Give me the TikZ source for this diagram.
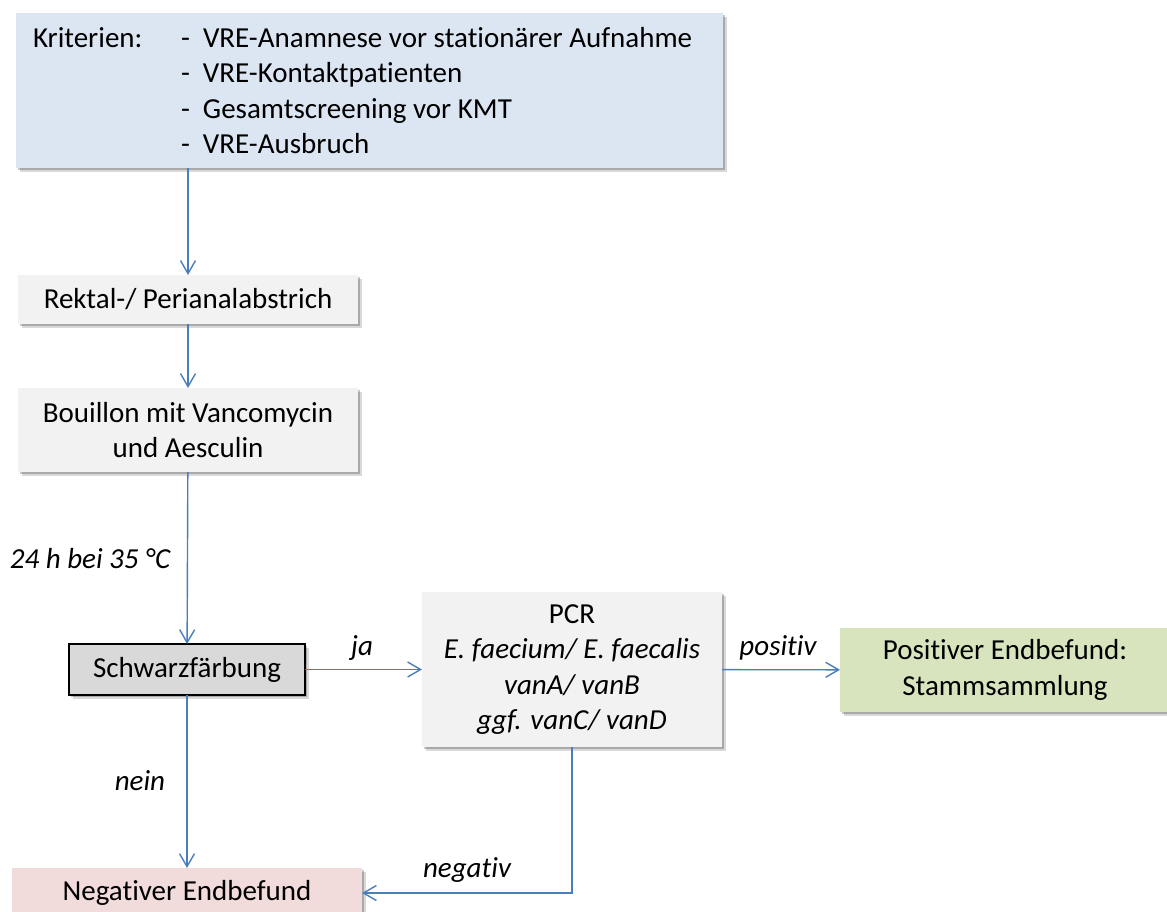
\documentclass[tikz,border=0pt]{standalone}
\usepackage{fontspec}
\setmainfont[Ligatures=NoCommon]{Carlito}
\usetikzlibrary{arrows.meta,shadows}
\definecolor{conncol}{HTML}{4A7EBB}
\definecolor{critfill}{HTML}{DCE6F2}
\definecolor{greyfill}{HTML}{F2F2F2}
\definecolor{darkfill}{HTML}{D9D9D9}
\definecolor{posfill}{HTML}{D7E4BD}
\definecolor{negfill}{HTML}{F2DCDB}
\begin{document}
\begin{tikzpicture}[x=1pt,y=-1pt,
  softshadow/.style={
    drop shadow={shadow xshift=2pt,shadow yshift=-2pt,opacity=0.22,fill=black},
    drop shadow={shadow xshift=4pt,shadow yshift=-4pt,opacity=0.15,fill=black}},
  boxbase/.style={rectangle,inner sep=0pt,outer sep=0pt,align=center,
    font=\fontsize{29}{35.5}\selectfont,softshadow},
  critbox/.style={boxbase,fill=critfill,align=flush left},
  greybox/.style={boxbase,fill=greyfill},
  darkbox/.style={boxbase,fill=darkfill,draw=black,line width=1.8pt},
  posbox/.style={boxbase,fill=posfill},
  negbox/.style={boxbase,fill=negfill},
  conn/.style={draw=conncol,line width=1.4pt,-{Straight Barb[length=13pt,width=15pt]}},
  lbl/.style={inner sep=0pt,outer sep=0pt,font=\fontsize{29}{35}\selectfont\itshape,anchor=base}
]
\useasboundingbox (0,0) rectangle (1167,912);

\node[critbox,minimum width=707pt,minimum height=155pt,text width=673pt,inner ysep=0pt] (crit) at (369.5,90.5)
  {\raisebox{-3pt}{\makebox[148pt][l]{Kriterien:}}\raisebox{-3pt}{\makebox[22pt][l]{-}VRE-Anamnese vor stationärer Aufnahme}\\
   \hspace*{148pt}\raisebox{-3pt}{\makebox[22pt][l]{-}VRE-Kontaktpatienten}\\
   \hspace*{148pt}\raisebox{-3pt}{\makebox[22pt][l]{-}Gesamtscreening vor KMT}\\
   \hspace*{148pt}\raisebox{-3pt}{\makebox[22pt][l]{-}VRE-Ausbruch}};

\node[greybox,minimum width=340pt,minimum height=49pt] (rek) at (188,299.5) {Rektal-/ Perianalabstrich};
\node[greybox,minimum width=340pt,minimum height=84pt] (bou) at (188,430) {Bouillon mit Vancomycin\\und Aesculin};
\node[darkbox,minimum width=236pt,minimum height=51pt] (sch) at (187,669.5) {Schwarzfärbung};
\node[greybox,minimum width=300pt,minimum height=155pt] (pcr) at (572,669.5)
  {PCR\\\textit{E. faecium/ E. faecalis}\\\textit{vanA/ vanB}\\\textit{ggf. vanC/ vanD}};
\node[posbox,minimum width=330pt,minimum height=84pt] (pos) at (1005,670) {Positiver Endbefund:\\Stammsammlung};
\node[negbox,minimum width=350pt,minimum height=50pt] (neg) at (187,893) {Negativer Endbefund};

\draw[conn] (crit.south -| rek.north) -- (rek.north);
\draw[conn] (rek) -- (bou);
\draw[conn] (bou) -- (sch);
\draw[conn] (sch) -- (pcr);
\draw[conn] (pcr) -- (pos);
\draw[conn] (sch) -- (neg);
\draw[conn] (pcr.south) |- (neg.east);

\node[lbl] (l24) at (90,568) {24 h bei 35 °C};
\node[lbl] (lja) at (362,655) {ja};
\node[lbl] (lpos) at (778,655) {positiv};
\node[lbl] (lnein) at (140,790) {nein};
\node[lbl] (lneg) at (467,877) {negativ};
\end{tikzpicture}
\end{document}
